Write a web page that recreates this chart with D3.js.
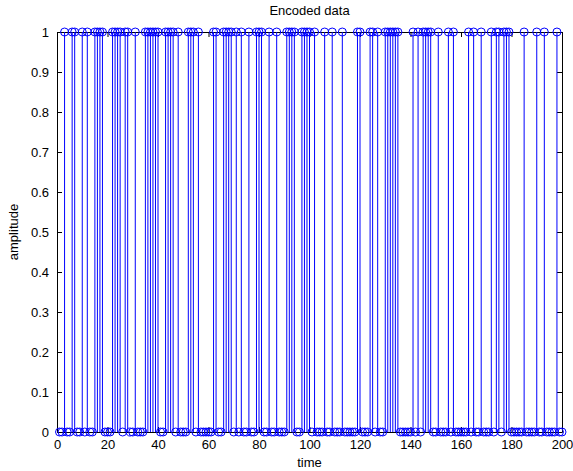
<!DOCTYPE html>
<html>
<head>
<meta charset="utf-8">
<script src="https://cdn.jsdelivr.net/npm/d3@7"></script>
<style>
  body { margin: 0; background: #fff; }
  svg { display: block; font-family: "Liberation Sans", Arial, sans-serif; }
</style>
</head>
<body>
<div id="chart"></div>
<script>
// encoded bits, time = 1..200
var bits = [
  0,0,1,0,0,1,1,0,0,1,
  0,1,0,0,1,1,1,1,0,0,
  0,1,1,1,1,0,1,1,0,0,
  1,0,0,0,1,1,1,1,1,1,
  0,0,1,1,1,1,0,1,0,0,
  0,1,1,1,0,1,0,0,0,0,
  0,1,1,0,0,1,1,1,1,0,
  1,0,1,0,0,1,0,0,1,1,
  1,0,0,1,0,0,1,0,0,0,
  1,1,1,1,0,0,1,1,1,1,
  0,1,0,0,0,1,0,0,1,0,
  0,0,1,0,0,0,0,0,1,1,
  0,0,0,1,1,0,1,0,0,1,
  1,1,1,1,1,0,0,0,0,0,
  1,0,1,0,1,1,1,1,0,0,
  1,0,0,0,1,0,1,0,0,0,
  0,0,1,0,1,0,0,1,0,0,
  0,1,0,1,1,0,1,1,1,0,
  0,0,0,0,1,0,0,0,0,1,
  0,0,1,0,0,0,0,1,0,0
];
var xTicks = [0, 20, 40, 60, 80, 100, 120, 140, 160, 180, 200];
var yTicks = [0, 0.1, 0.2, 0.3, 0.4, 0.5, 0.6, 0.7, 0.8, 0.9, 1];

var data = bits.map(function(b, i) { return { t: i + 1, v: b }; });

var W = 573, H = 471;
var margin = { left: 57, top: 32, right: 11, bottom: 39 };
var width = W - margin.left - margin.right;
var height = H - margin.top - margin.bottom;

var svg = d3.select("#chart").append("svg")
    .attr("width", W)
    .attr("height", H);

var g = svg.append("g")
    .attr("transform", "translate(" + margin.left + "," + margin.top + ")");

var x = d3.scaleLinear().domain([0, 200]).range([0, width]);
var y = d3.scaleLinear().domain([0, 1]).range([height, 0]);

// axes, ticks inside like matlab
var tickLen = 5;
g.append("g")
    .attr("class", "axis")
    .attr("transform", "translate(0," + height + ")")
    .call(d3.axisBottom(x).tickValues(xTicks).tickSizeInner(-tickLen).tickSizeOuter(0).tickPadding(8))
    .call(styleAxis);
g.append("g")
    .attr("class", "axis")
    .call(d3.axisTop(x).tickValues(xTicks).tickSizeInner(-tickLen).tickSizeOuter(0).tickFormat(""))
    .call(styleAxis);
g.append("g")
    .attr("class", "axis")
    .call(d3.axisLeft(y).tickValues(yTicks).tickSizeInner(-tickLen).tickSizeOuter(0).tickPadding(8).tickFormat(d3.format("~g")))
    .call(styleAxis);
g.append("g")
    .attr("class", "axis")
    .attr("transform", "translate(" + width + ",0)")
    .call(d3.axisRight(y).tickValues(yTicks).tickSizeInner(-tickLen).tickSizeOuter(0).tickFormat(""))
    .call(styleAxis);

function styleAxis(sel) {
  sel.select(".domain").attr("stroke", "#000");
  sel.selectAll(".tick line").attr("stroke", "#000");
  sel.selectAll(".tick text").attr("fill", "#000").style("font-size", "13px");
}

// stems
g.selectAll(".stem")
    .data(data.filter(function(d) { return d.v !== 0; }))
    .enter().append("line")
    .attr("class", "stem")
    .attr("x1", function(d) { return x(d.t); })
    .attr("x2", function(d) { return x(d.t); })
    .attr("y1", y(0))
    .attr("y2", function(d) { return y(d.v); })
    .attr("stroke", "#0000ff")
    .attr("stroke-width", 1);

// markers
g.selectAll(".mark")
    .data(data)
    .enter().append("circle")
    .attr("class", "mark")
    .attr("cx", function(d) { return x(d.t); })
    .attr("cy", function(d) { return y(d.v); })
    .attr("r", 4)
    .attr("fill", "none")
    .attr("stroke", "#0000ff")
    .attr("stroke-width", 1);

// texts
svg.append("text")
    .attr("x", margin.left + width / 2)
    .attr("y", 15)
    .attr("text-anchor", "middle")
    .style("font-size", "13px")
    .text("Encoded data");

svg.append("text")
    .attr("x", margin.left + width / 2)
    .attr("y", 467)
    .attr("text-anchor", "middle")
    .style("font-size", "13px")
    .text("time");

svg.append("text")
    .attr("transform", "translate(18," + (margin.top + height / 2) + ") rotate(-90)")
    .attr("text-anchor", "middle")
    .style("font-size", "13px")
    .text("amplitude");
</script>
</body>
</html>
